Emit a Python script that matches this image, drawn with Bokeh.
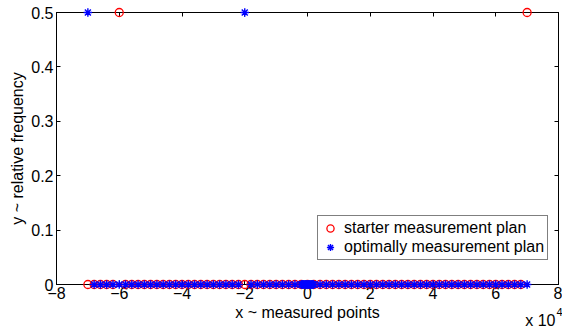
from bokeh.plotting import figure
from bokeh.models import Range1d, LinearAxis, FixedTicker, Legend, LegendItem, CustomLabelingPolicy
from bokeh.core.properties import value
from bokeh.embed import file_html
from bokeh.resources import INLINE

# starter measurement plan (red circles)
red_x = [-70000, -68000, -66000, -64000, -62000, -60000, -58000, -56000, -54000, -52000,
         -50000, -48000, -46000, -44000, -42000, -40000, -38000, -36000, -34000, -32000,
         -30000, -28000, -26000, -24000, -22000, -20000, -18000, -16000, -14000, -12000,
         -10000, -8000, -6000, -4000, -2000, 0, 2000, 4000, 6000, 8000,
         10000, 12000, 14000, 16000, 18000, 20000, 22000, 24000, 26000, 28000,
         30000, 32000, 34000, 36000, 38000, 40000, 42000, 44000, 46000, 48000,
         50000, 52000, 54000, 56000, 58000, 60000, 62000, 64000, 66000, 68000,
         70000]
red_y = [0, 0, 0, 0, 0, 0.5, 0, 0, 0, 0,
         0, 0, 0, 0, 0, 0, 0, 0, 0, 0,
         0, 0, 0, 0, 0, 0, 0, 0, 0, 0,
         0, 0, 0, 0, 0, 0, 0, 0, 0, 0,
         0, 0, 0, 0, 0, 0, 0, 0, 0, 0,
         0, 0, 0, 0, 0, 0, 0, 0, 0, 0,
         0, 0, 0, 0, 0, 0, 0, 0, 0, 0,
         0.5]

# optimally measurement plan (blue stars)
blue_x = [-70000, -68000, -66000, -64000, -62000, -60000, -58000, -56000, -54000, -52000,
          -50000, -48000, -46000, -44000, -42000, -40000, -38000, -36000, -34000, -32000,
          -30000, -28000, -26000, -24000, -22000, -20000, -18000, -16000, -14000, -12000,
          -10000, -8000, -6000, -4000, -2000, 0, 2000, 4000, 6000, 8000,
          10000, 12000, 14000, 16000, 18000, 20000, 22000, 24000, 26000, 28000,
          30000, 32000, 34000, 36000, 38000, 40000, 42000, 44000, 46000, 48000,
          50000, 52000, 54000, 56000, 58000, 60000, 62000, 64000, 66000, 68000,
          70000,
          -1800, -1600, -1400, -1200, -1000, -800, -600, -400, -200,
          200, 400, 600, 800, 1000, 1200, 1400, 1600, 1800]
blue_y = [0.5, 0, 0, 0, 0, 0, 0, 0, 0, 0,
          0, 0, 0, 0, 0, 0, 0, 0, 0, 0,
          0, 0, 0, 0, 0, 0.5, 0, 0, 0, 0,
          0, 0, 0, 0, 0, 0, 0, 0, 0, 0,
          0, 0, 0, 0, 0, 0, 0, 0, 0, 0,
          0, 0, 0, 0, 0, 0, 0, 0, 0, 0,
          0, 0, 0, 0, 0, 0, 0, 0, 0, 0,
          0,
          0, 0, 0, 0, 0, 0, 0, 0, 0,
          0, 0, 0, 0, 0, 0, 0, 0, 0]

x_ticks = [-80000, -60000, -40000, -20000, 0, 20000, 40000, 60000, 80000]
x_tick_labels = ["\u22128", "\u22126", "\u22124", "\u22122", "0", "2", "4", "6", "8"]
y_ticks = [0, 0.1, 0.2, 0.3, 0.4, 0.5]
y_tick_labels = ["0", "0.1", "0.2", "0.3", "0.4", "0.5"]
x_max = 80000

FONT = "Liberation Sans"

p = figure(width=562, height=329, output_backend="svg", toolbar_location=None,
           x_range=Range1d(-80000, 80000), y_range=Range1d(0, 0.5),
           min_border_left=56, min_border_right=2, min_border_top=12, min_border_bottom=45)
p.xgrid.visible = False
p.ygrid.visible = False
p.outline_line_color = "black"
p.outline_line_width = 1

for ax, ticks, labels in ((p.xaxis[0], x_ticks, x_tick_labels), (p.yaxis[0], y_ticks, y_tick_labels)):
    ax.ticker = FixedTicker(ticks=ticks)
    ax.major_label_overrides = {t: l for t, l in zip(ticks, labels)}
    ax.major_tick_in = 4
    ax.major_tick_out = 0
    ax.minor_tick_line_color = None
    ax.major_label_text_font = FONT
    ax.major_label_text_font_size = "16px"
    ax.major_label_text_color = "black"
    ax.axis_label_text_font = FONT
    ax.axis_label_text_font_size = "16px"
    ax.axis_label_text_font_style = "normal"
    ax.axis_label_text_color = "black"
    ax.axis_line_color = "black"
    ax.major_tick_line_color = "black"

p.xaxis[0].axis_label = "x ~ measured points"
p.yaxis[0].axis_label = "y ~ relative frequency"
p.xaxis[0].major_label_standoff = 2
p.xaxis[0].axis_label_standoff = 2
p.yaxis[0].major_label_standoff = 3
p.yaxis[0].axis_label_standoff = 2

no_labels = "for (const i of Array.from(indices)) { indices.unset(i) } return indices"
top = LinearAxis(ticker=FixedTicker(ticks=x_ticks), major_tick_in=4, major_tick_out=0,
                 minor_tick_line_color=None, major_label_policy=CustomLabelingPolicy(code=no_labels),
                 major_label_text_font_size="1px", major_label_standoff=0, axis_line_color="black")
right = LinearAxis(ticker=FixedTicker(ticks=y_ticks), major_tick_in=4, major_tick_out=0,
                   minor_tick_line_color=None, major_label_policy=CustomLabelingPolicy(code=no_labels),
                   major_label_text_font_size="1px", major_label_standoff=0, axis_line_color="black")
p.add_layout(top, "above")
p.add_layout(right, "right")

r_red = p.scatter(red_x, red_y, marker="circle", size=8, fill_color=None,
                  line_color="red", line_width=1.3, level="overlay")
r_blue = p.scatter(blue_x, blue_y, marker="asterisk", size=8.5,
                   line_color="blue", line_width=1.4, level="overlay")

legend = Legend(items=[LegendItem(label="starter measurement plan", renderers=[r_red]),
                       LegendItem(label="optimally measurement plan", renderers=[r_blue])],
                location=(261, 24))
legend.label_text_font = FONT
legend.label_text_font_size = "16px"
legend.label_text_color = "black"
legend.border_line_color = "black"
legend.border_line_width = 1
legend.background_fill_color = "white"
legend.background_fill_alpha = 1
legend.padding = 3
legend.spacing = 1
legend.margin = 0
legend.glyph_width = 18
legend.glyph_height = 18
legend.label_height = 18
legend.label_standoff = 5
legend.level = "overlay"
p.add_layout(legend, "center")

# axis multiplier "x 10^4" anchored at the bottom-right corner of the axes
p.text(x=[x_max], y=[0], text=["x 10"], x_offset=-3, y_offset=36,
       text_font=value(FONT), text_font_size="16px", text_align="right",
       text_baseline="alphabetic", text_color="black", level="overlay")
p.text(x=[x_max], y=[0], text=["4"], x_offset=-2, y_offset=27,
       text_font=value(FONT), text_font_size="11px", text_align="left",
       text_baseline="alphabetic", text_color="black", level="overlay")

open("out.html", "w").write(file_html(p, INLINE))
